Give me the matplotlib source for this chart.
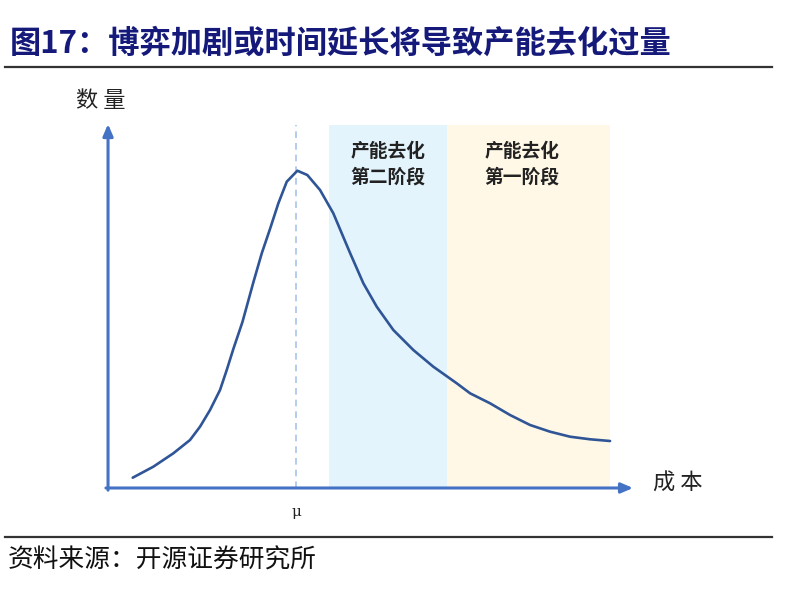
import matplotlib.pyplot as plt
from matplotlib.lines import Line2D

plt.rcParams['font.family'] = ['Noto Sans CJK SC', 'DejaVu Sans']

# curve (cost vs quantity, arbitrary units 0-100)
cost = [4.70, 8.63, 12.44, 15.62, 17.52, 19.43, 21.33, 22.61, 23.87, 25.60,
        27.68, 29.28, 30.86, 32.44, 34.04, 36.06, 37.96, 40.38, 42.91, 46.10,
        48.63, 51.18, 54.34, 58.15, 61.96, 66.42, 68.95, 72.76, 76.57, 80.38,
        84.19, 88.00, 91.81, 95.62]
quantity = [2.83, 5.85, 9.53, 13.19, 16.84, 21.43, 26.92, 32.42, 38.20, 45.60,
            56.50, 64.48, 71.20, 78.21, 84.15, 87.17, 85.99, 81.87, 75.47, 64.56,
            56.24, 49.81, 43.41, 37.91, 33.32, 28.76, 26.02, 23.27, 20.05, 17.31,
            15.47, 14.09, 13.38, 12.91]

mu = 35.8
stage2 = (42.1, 64.6)
stage1 = (64.6, 95.6)
band_top = 99.7
stage2_label = "产能去化\n第二阶段"
stage1_label = "产能去化\n第一阶段"

title = "图17：博弈加剧或时间延长将导致产能去化过量"
source = "资料来源：开源证券研究所"

fig = plt.figure(figsize=(8.05, 5.9), dpi=100)
ax = fig.add_axes([0.1342, 0.1729, 0.6522, 0.6169])
ax.set_xlim(0, 100)
ax.set_ylim(0, 100)
ax.axis("off")

ax.fill_between(stage2, 0, band_top, color="#E3F4FC", lw=0, zorder=0)
ax.fill_between(stage1, 0, band_top, color="#FFF8E6", lw=0, zorder=0)
ax.plot([mu, mu], [0, band_top], ls=(0, (4, 3)), color="#A9C4EB", lw=1.2, zorder=1)
ax.plot(cost, quantity, color="#2F5597", lw=1.9, zorder=3,
        solid_capstyle="round", solid_joinstyle="round")

arrow = dict(arrowstyle="-|>,head_length=0.7,head_width=0.3", color="#4472C4",
             lw=2.2, shrinkA=0, shrinkB=0)
ax.annotate("", xy=(100, 0), xytext=(-0.4, 0), arrowprops=arrow,
            annotation_clip=False, zorder=4)
ax.annotate("", xy=(0, 100), xytext=(0, -0.6), arrowprops=arrow,
            annotation_clip=False, zorder=4)

ax.text(-1.3, 106.5, "数 量", fontsize=16, ha="center", va="center", color="#222222")
ax.text(108.5, 1.4, "成 本", fontsize=16, ha="center", va="center", color="#222222")
ax.text(mu, -6.6, "μ", fontsize=11, ha="center", va="center", color="#222222",
        family="DejaVu Serif")
ax.text(sum(stage2) / 2, 89.0, stage2_label, fontsize=13.5, fontweight="bold",
        ha="center", va="center", linespacing=1.45, color="#222222")
ax.text(sum(stage1) / 2 - 1.2, 89.0, stage1_label, fontsize=13.5, fontweight="bold",
        ha="center", va="center", linespacing=1.45, color="#222222")

fig.text(10 / 805, 1 - 44 / 590, title, fontsize=22.5, fontweight="bold",
         color="#14197A", ha="left", va="center")
fig.add_artist(Line2D([5 / 805, 772 / 805], [1 - 67 / 590] * 2, color="#333333", lw=1.6))
fig.add_artist(Line2D([5 / 805, 772 / 805], [1 - 537 / 590] * 2, color="#333333", lw=1.6))
fig.text(8 / 805, 1 - 561 / 590, source, fontsize=18.5, color="#111111",
         ha="left", va="center")

fig.savefig("out.png", dpi=100)
